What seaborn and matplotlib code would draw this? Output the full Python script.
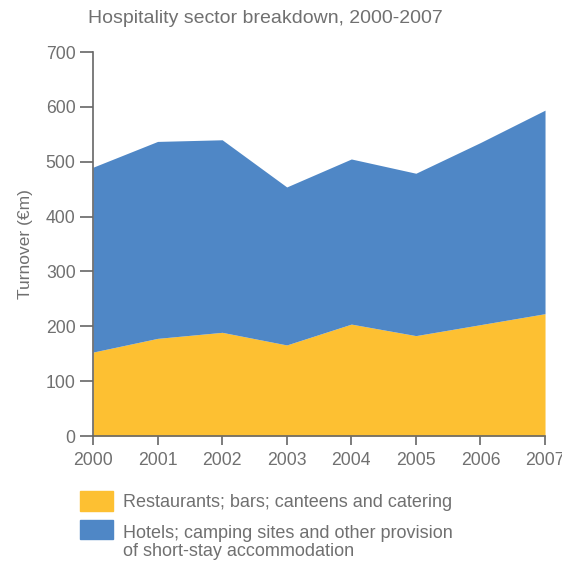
import numpy as np
import matplotlib
matplotlib.use("Agg")
import matplotlib.pyplot as plt
from matplotlib.patches import Rectangle
import seaborn as sns

years = [2000, 2001, 2002, 2003, 2004, 2005, 2006, 2007]
restaurants = [153, 178, 189, 166, 204, 183, 203, 223]
hotels = [337, 359, 351, 288, 301, 296, 332, 371]
series_names = ["Restaurants; bars; canteens and catering",
                "Hotels; camping sites and other provision\nof short-stay accommodation"]
colors = ["#FDC032", "#4F87C6"]
grey = "#707070"

sns.set_theme(style="ticks")
plt.rcParams['font.family'] = ['Liberation Sans', 'DejaVu Sans']

fig = plt.figure(figsize=(5.62, 5.61), dpi=100)
ax = fig.add_axes([0.1655, 0.2228, 0.8043, 0.6845])

ax.stackplot(years, restaurants, hotels, colors=colors, linewidth=0)

ax.set_xlim(2000, 2007)
ax.set_ylim(0, 700)
ax.set_xticks(years)
ax.set_yticks(range(0, 701, 100))
ax.tick_params(axis='both', colors="#666666", labelcolor=grey, labelsize=12.7,
               width=1.2, direction='out')
ax.tick_params(axis='y', length=9.5, pad=3)
ax.tick_params(axis='x', length=6.5, pad=5)
sns.despine(ax=ax)
for s in ['left', 'bottom']:
    ax.spines[s].set_color("#666666")
    ax.spines[s].set_linewidth(1.2)

ax.set_ylabel("Turnover (€m)", color=grey, fontsize=12.5, labelpad=9)

fig.text(0.473, 0.967, "Hospitality sector breakdown, 2000-2007",
         ha='center', va='center', color=grey, fontsize=14)

# legend drawn by hand so the second swatch sits on the first line
swatch_top = [491, 519.5]
baselines = [507.3, 556]   # baseline of the last line of each label
for name, col, top, base in zip(series_names, colors, swatch_top, baselines):
    fig.patches.append(Rectangle((80 / 562, 1 - (top + 19.5) / 561), 33 / 562, 19.5 / 561,
                                 transform=fig.transFigure, color=col))
    fig.text(123 / 562, 1 - base / 561, name, ha='left', va='baseline',
             color=grey, fontsize=13, linespacing=1.1,
             transform=fig.transFigure)

fig.savefig("out.png", dpi=100)
